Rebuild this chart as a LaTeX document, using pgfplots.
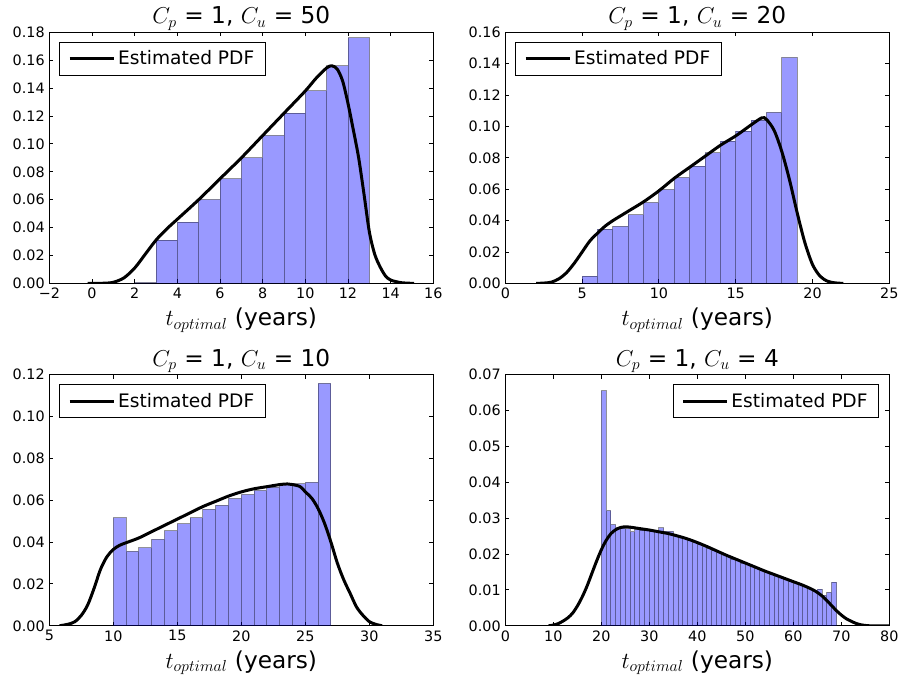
\documentclass[border=0pt]{standalone}
\usepackage{fontspec}
\setmainfont{DejaVu Sans}
\usepackage{pgfplots}
\pgfplotsset{compat=1.18}

\pgfplotsset{
  panel/.style={
    scale only axis,
    width=288bp, height=188.3bp,
    anchor=north west,
    ymin=0,
    axis line style={line width=0.75bp},
    tick style={line width=0.75bp, black},
    major tick length=3bp,
    tick align=inside,
    xtick pos=both, ytick pos=both,
    scaled y ticks=false,
    every tick label/.append style={font=\fontsize{10.8}{13}\selectfont},
    /pgf/number format/assume math mode=true,
    yticklabel style={/pgf/number format/fixed, /pgf/number format/fixed zerofill,
      /pgf/number format/precision=2},
    title style={font=\fontsize{17.5}{20}\selectfont, yshift=-8bp},
    label style={font=\fontsize{17.5}{20}\selectfont},
    xlabel={$t_{optimal}$ (years)},
    xlabel style={yshift=0bp},
    legend style={draw=black, line width=0.75bp, font=\fontsize{14}{16}\selectfont,
      inner xsep=6.5bp, inner ysep=4.5bp, row sep=0pt},
    legend image code/.code={\draw[#1] (0bp,0bp) -- (22.5bp,0bp);
      \path (0bp,0bp) -- (33bp,0bp);},
  },
  hist/.style={ybar interval, fill=blue, fill opacity=0.4, draw=black,
    draw opacity=0.4, line width=0.75bp, forget plot},
  kde/.style={black, line width=2.25bp, smooth, no markers},
}

\begin{document}
\begin{tikzpicture}
\useasboundingbox (0,0) rectangle (674.25bp,509.25bp);

% C_u = 50
\begin{axis}[panel, at={(37bp,485bp)},
  title={$C_p$ = 1, $C_u$ = 50},
  xmin=-2, xmax=16, ymax=0.18,
  xtick={-2,0,2,4,6,8,10,12,14,16},
  xticklabels={−2,0,2,4,6,8,10,12,14,16},
  ytick={0,0.02,...,0.181},
  legend style={at={(0.026,0.963)}, anchor=north west}]
\addplot[hist] coordinates {
  (2,0.0006)(3,0.031)(4,0.044)(5,0.060)(6,0.075)(7,0.090)(8,0.106)
  (9,0.122)(10,0.138)(11,0.156)(12,0.176)(13,0)};
\addplot[kde] coordinates {
  (-0.2,0)(0.5,0.0001)(1,0.0008)(1.5,0.004)(2,0.011)(2.5,0.021)(3,0.031)
  (3.5,0.039)(4,0.046)(5,0.060)(6,0.075)(7,0.090)(8,0.106)(9,0.122)
  (10,0.138)(10.5,0.147)(11,0.1545)(11.25,0.156)(11.5,0.1535)(11.75,0.145)
  (12,0.129)(12.25,0.110)(12.5,0.090)(12.75,0.064)(13,0.037)(13.25,0.021)
  (13.5,0.012)(13.75,0.0055)(14,0.0024)(14.5,0.0005)(15.1,0)};
\addlegendentry{Estimated PDF}
\end{axis}

% C_u = 20
\begin{axis}[panel, at={(379bp,485bp)},
  title={$C_p$ = 1, $C_u$ = 20},
  xmin=0, xmax=25, ymax=0.16,
  xtick={0,5,...,25},
  ytick={0,0.02,...,0.161},
  legend style={at={(0.026,0.963)}, anchor=north west}]
\addplot[hist] coordinates {
  (5,0.0047)(6,0.0346)(7,0.0363)(8,0.0436)(9,0.0514)(10,0.0597)(11,0.0674)
  (12,0.0748)(13,0.0831)(14,0.0907)(15,0.0971)(16,0.104)(17,0.109)(18,0.1439)(19,0)};
\addplot[kde] coordinates {
  (2,0)(2.5,0.0002)(3,0.0008)(3.5,0.003)(4,0.007)(4.5,0.013)(5,0.020)
  (5.5,0.027)(6,0.032)(6.5,0.0365)(7,0.040)(7.5,0.043)(8,0.046)(9,0.052)
  (10,0.059)(11,0.067)(12,0.074)(13,0.081)(14,0.088)(15,0.094)(16,0.101)
  (16.7,0.1055)(17,0.1045)(17.5,0.0975)(18,0.084)(18.5,0.066)(19,0.045)
  (19.5,0.026)(20,0.012)(20.5,0.0045)(21,0.0013)(21.5,0.0003)(22,0)};
\addlegendentry{Estimated PDF}
\end{axis}

% C_u = 10
\begin{axis}[panel, at={(37bp,228.2bp)},
  title={$C_p$ = 1, $C_u$ = 10},
  xmin=5, xmax=35, ymax=0.12,
  xtick={5,10,...,35},
  ytick={0,0.02,...,0.121},
  legend style={at={(0.026,0.963)}, anchor=north west}]
\addplot[hist] coordinates {
  (10,0.0516)(11,0.0356)(12,0.0373)(13,0.0413)(14,0.0454)(15,0.0487)
  (16,0.0516)(17,0.0556)(18,0.0575)(19,0.0608)(20,0.0627)(21,0.0646)
  (22,0.0662)(23,0.0675)(24,0.0678)(25,0.0686)(26,0.1159)(27,0)};
\addplot[kde] coordinates {
  (5.8,0)(6.5,0.0008)(7,0.002)(7.5,0.005)(8,0.010)(8.5,0.018)(9,0.027)
  (9.5,0.033)(10,0.0365)(10.5,0.0385)(11,0.0397)(12,0.042)(13,0.045)
  (14,0.048)(15,0.051)(16,0.054)(17,0.057)(18,0.0595)(19,0.062)(20,0.064)
  (21,0.0655)(22,0.0665)(23,0.0675)(23.6,0.0678)(24,0.0675)(24.6,0.0665)
  (25,0.064)(25.5,0.061)(26,0.056)(26.5,0.049)(27,0.040)(27.5,0.030)
  (28,0.022)(28.5,0.0155)(29,0.009)(29.5,0.005)(30,0.002)(30.5,0.0007)(31,0)};
\addlegendentry{Estimated PDF}
\end{axis}

% C_u = 4
\begin{axis}[panel, at={(379bp,228.2bp)},
  title={$C_p$ = 1, $C_u$ = 4},
  xmin=0, xmax=80, ymax=0.07,
  xtick={0,10,...,80},
  ytick={0,0.01,...,0.071},
  legend style={at={(0.974,0.963)}, anchor=north east}]
\addplot[hist] coordinates {
  (20,0.0655)(21,0.0321)(22,0.0282)(23,0.0273)(24,0.0272)(25,0.0270)
  (26,0.0262)(27,0.0268)(28,0.0267)(29,0.0265)(30,0.0264)(31,0.0262)
  (32,0.0273)(33,0.0263)(34,0.0263)(35,0.0252)(36,0.0247)(37,0.0242)
  (38,0.0238)(39,0.0232)(40,0.0227)(41,0.0221)(42,0.0216)(43,0.0210)
  (44,0.0204)(45,0.0198)(46,0.0192)(47,0.0186)(48,0.0181)(49,0.0175)
  (50,0.0170)(51,0.0164)(52,0.0159)(53,0.0153)(54,0.0148)(55,0.0144)
  (56,0.0139)(57,0.0134)(58,0.0130)(59,0.0126)(60,0.0121)(61,0.0116)
  (62,0.0110)(63,0.0105)(64,0.0099)(65,0.0102)(66,0.0085)(67,0.0093)
  (68,0.0122)(69,0)};
\addplot[kde] coordinates {
  (9,0)(10,0.0002)(11,0.0006)(12,0.0013)(13,0.0022)(14,0.0035)(15,0.0055)
  (16,0.0080)(17,0.011)(18,0.0145)(19,0.018)(20,0.0212)(21,0.0238)
  (22,0.0257)(23,0.0268)(24,0.0274)(25,0.0276)(26,0.0275)(28,0.0271)
  (30,0.0267)(32,0.0262)(34,0.0257)(36,0.0250)(38,0.0242)(40,0.0232)
  (42,0.0221)(44,0.0209)(46,0.0197)(48,0.0186)(50,0.0175)(52,0.0164)
  (54,0.0153)(56,0.0143)(58,0.0133)(60,0.0123)(62,0.0113)(64,0.0101)
  (65,0.0093)(66,0.0083)(67,0.0070)(68,0.0056)(69,0.0042)(70,0.0030)
  (71,0.0020)(72,0.0013)(73,0.0007)(74,0.0003)(75,0.0001)(76,0)(80,0)};
\addlegendentry{Estimated PDF}
\end{axis}
\end{tikzpicture}
\end{document}
